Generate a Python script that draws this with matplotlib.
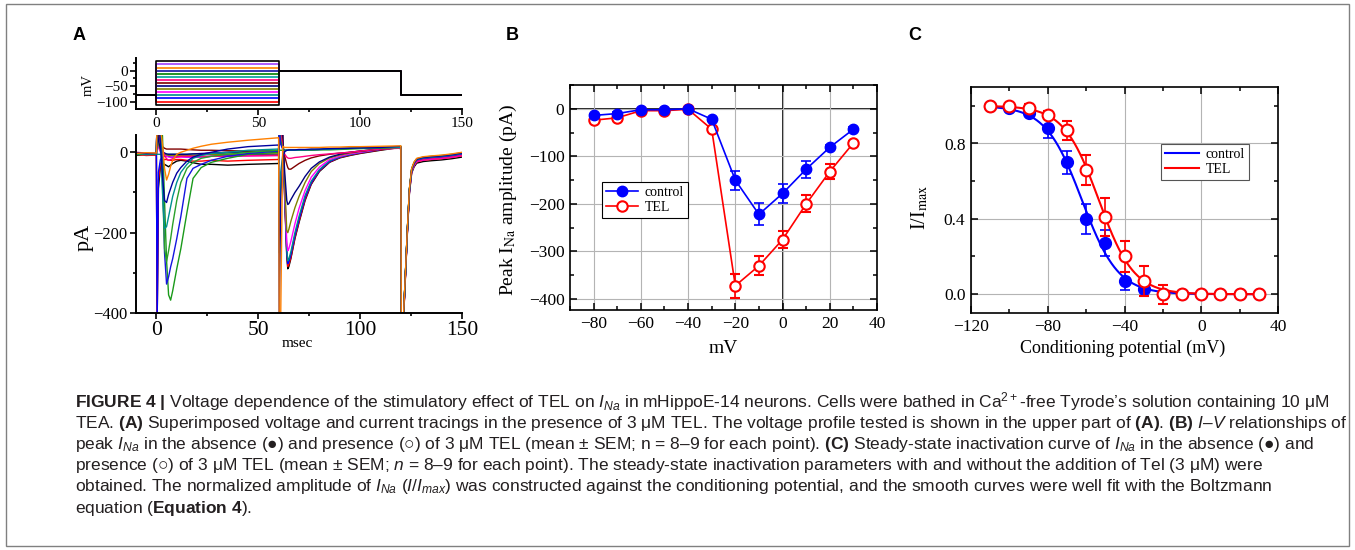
import numpy as np
import matplotlib
matplotlib.use("Agg")
import matplotlib.pyplot as plt
from matplotlib.ticker import MultipleLocator
from matplotlib.lines import Line2D
from matplotlib.patches import Rectangle

plt.rcParams['font.family'] = 'Liberation Serif'
plt.rcParams['mathtext.fontset'] = 'custom'
plt.rcParams['mathtext.rm'] = 'Liberation Sans'
plt.rcParams['mathtext.it'] = 'Liberation Sans:italic'
plt.rcParams['mathtext.bf'] = 'Liberation Sans:bold'

# ---------------- panel A: voltage protocol ----------------
levels = [-110, -100, -90, -80, -70, -60, -50, -40, -30, -20, -10, 0, 10, 20, 30]
hold_mv = -80
test_mv = 0
volt_t = [-10, 0, 0, 60, 60, 120, 120, 150]
volt_colors = ['black', 'red', 'blue', '#008b8b', '#ff00ff', '#808000', '#000080', '#800000',
               '#ff0080', '#00a0a0', '#008000', '#1010a0', '#ff8000', '#a040ff', 'black']

# ---------------- panel A: current traces (pA) ----------------
cur_colors = ['black', 'red', 'blue', '#008b8b', '#ff00ff', '#808000', '#000080', '#800000',
              '#ff0080', '#1a9a1a', '#1515e0', '#2aa02a', '#009090', '#0000a0', '#ff8000']

t_cond = [-10, -5, 0, 0.4, 1, 2, 3, 4, 5, 6, 7, 8, 10, 12, 15, 18, 22, 27, 35, 45, 59.6]
I_cond = [
    [-8, -5, -6, -420, -90, -35, -28, -30, -33, -36, -32, -28, -22, -20, -22, -26, -30, -30, -32, -30, -28],
    [-5, -8, -7, -420, -70, -28, -20, -18, -18, -20, -20, -20, -18, -18, -20, -22, -22, -20, -22, -20, -18],
    [-3, -5, -4, -420, -50, -18, -12, -10, -10, -10, -12, -12, -10, -10, -12, -12, -12, -10, -8, -6, -5],
    [-6, -4, -5, -5, -5, -5, -6, -6, -6, -5, -5, -5, -5, -5, -5, -4, -4, -3, -2, 0, 2],
    [-4, -6, -5, 40, 12, 0, -5, -8, -10, -12, -12, -12, -12, -12, -12, -12, -12, -10, -10, -9, -8],
    [-2, -4, -3, 60, 20, 4, 0, -4, -6, -8, -8, -8, -8, -8, -8, -8, -6, -5, -5, -4, -4],
    [-5, -3, -4, 80, 30, 8, 2, -2, -4, -5, -5, -5, -5, -5, -5, -4, -3, -2, 0, 2, 4],
    [-3, -5, -4, 100, 50, 22, 14, 10, 8, 8, 8, 8, 8, 8, 7, 6, 5, 5, 4, 3, 2],
    [0, -2, -3, 100, 80, 30, 6, -8, -16, -20, -18, -16, -12, -10, -10, -10, -10, -10, -10, -9, -8],
    [-4, -6, -5, 100, 100, 100, 40, -120, -270, -355, -368, -345, -290, -240, -150, -65, -38, -25, -15, -5, 0],
    [-2, -4, -3, 100, 100, 80, -40, -250, -328, -310, -285, -265, -215, -160, -65, -40, -30, -20, -10, -3, 3],
    [-6, -4, -5, 100, 100, 60, -80, -240, -272, -245, -215, -180, -120, -75, -40, -25, -15, -10, -5, 0, 5],
    [-3, -5, -4, 100, 100, 40, -100, -190, -185, -160, -135, -110, -75, -50, -30, -15, -8, -3, 0, 5, 8],
    [-2, -3, -3, 100, 100, 20, -60, -120, -125, -105, -90, -75, -52, -38, -22, -12, -5, 0, 8, 14, 18],
    [-3, -1, -2, 100, 100, 60, 20, -40, -69, -55, -35, -20, -5, 0, 5, 10, 15, 20, 25, 30, 36],
]

t_test = [60, 60.3, 61, 62, 63, 64, 64.5, 65, 66, 68, 70, 73, 76, 80, 85, 90, 95, 100, 110, 119.6]
I_test = [
    [-28, 100, 100, 60, -120, -260, -290, -285, -265, -215, -175, -120, -80, -48, -25, -14, -8, -3, 5, 12],
    [-18, 100, 100, 60, -115, -255, -284, -280, -262, -212, -172, -117, -78, -46, -24, -13, -7, -2, 6, 13],
    [-5, 100, 100, 60, -110, -250, -277, -273, -255, -207, -167, -113, -76, -45, -23, -12, -6, -1, 7, 14],
    [2, 100, 100, 55, -100, -243, -270, -266, -248, -200, -160, -107, -72, -43, -21, -11, -5, 0, 8, 12],
    [-8, 100, 100, 55, -90, -225, -245, -240, -222, -178, -140, -95, -62, -37, -18, -10, -4, 0, 8, 11],
    [-4, 100, 100, 50, -80, -195, -200, -192, -172, -138, -110, -75, -48, -28, -14, -7, -2, 2, 8, 12],
    [4, 100, 90, 40, -50, -120, -130, -128, -118, -100, -85, -60, -40, -24, -12, -5, 0, 3, 8, 13],
    [2, 100, 60, 20, -10, -30, -38, -42, -42, -35, -28, -20, -14, -9, -5, -2, 0, 3, 8, 12],
    [-8, 100, 50, 10, -5, -12, -14, -15, -15, -13, -12, -10, -8, -6, -4, -2, 0, 3, 8, 10],
    [0, 100, 30, 10, 5, 5, 5, 5, 5, 5, 5, 5, 5, 6, 6, 7, 8, 9, 10, 12],
    [3, 60, 20, 8, 5, 5, 5, 5, 5, 5, 6, 6, 6, 7, 8, 9, 10, 11, 12, 14],
    [5, 5, 5, 5, 5, 5, 5, 5, 5, 5, 6, 6, 6, 7, 8, 9, 10, 11, 12, 13],
    [8, -250, -50, -8, 2, 5, 5, 5, 5, 5, 6, 6, 7, 7, 8, 9, 10, 11, 12, 12],
    [18, -420, -120, -15, 2, 5, 5, 6, 6, 6, 7, 7, 8, 8, 9, 10, 10, 11, 12, 15],
    [36, -420, -420, 15, 12, 12, 12, 12, 12, 12, 12, 12, 12, 12, 13, 13, 14, 14, 15, 16],
]

t_tail = [120, 120.2, 121.2, 122, 123.2, 124.2, 125.3, 126.5, 127.8, 131, 135, 140, 145, 150]
I_tail = [12, -420, -420, -330, -193, -94, -44, -28, -19, -15, -13, -11, -8, -4]
tail_shift = [-8, -5, -3, -2, -4, -1, 0, 1, -3, 2, 0, 3, 1, 2, 4]

# ---------------- panel B: I-V ----------------
iv_mv = [-80, -70, -60, -50, -40, -30, -20, -10, 0, 10, 20, 30]
iv_ctrl = [-14, -10, -2, -2, 0, -22, -150, -222, -178, -127, -81, -43]
iv_ctrl_err = [3, 3, 2, 2, 2, 3, 20, 23, 20, 18, 5, 4]
iv_tel = [-24, -19, -4, -4, -1, -43, -372, -330, -275, -200, -132, -72]
iv_tel_err = [3, 3, 2, 2, 2, 4, 25, 20, 18, 18, 15, 5]

# ---------------- panel C: steady-state inactivation ----------------
ss_mv = [-110, -100, -90, -80, -70, -60, -50, -40, -30, -20, -10, 0, 10, 20, 30]
ss_ctrl = [1.0, 0.99, 0.96, 0.88, 0.70, 0.40, 0.27, 0.07, 0.03, 0.0, 0.0, 0.0, 0.0, 0.0, 0.0]
ss_ctrl_err = [0.005, 0.01, 0.01, 0.05, 0.06, 0.08, 0.07, 0.05, 0.02, 0.01, 0.005, 0.005, 0.005, 0.005, 0.005]
ss_tel = [1.0, 1.0, 0.99, 0.95, 0.87, 0.66, 0.41, 0.20, 0.07, 0.0, 0.0, 0.0, 0.0, 0.0, 0.0]
ss_tel_err = [0.005, 0.005, 0.02, 0.02, 0.05, 0.08, 0.10, 0.08, 0.08, 0.05, 0.015, 0.005, 0.005, 0.005, 0.005]

caption = [
    r"$\mathbf{FIGURE\ 4\ |}$ Voltage dependence of the stimulatory effect of TEL on $I_{Na}$ in mHippoE-14 neurons. Cells were bathed in Ca$^{2+}$-free Tyrode’s solution containing 10 μM",
    r"TEA. $\mathbf{(A)}$ Superimposed voltage and current tracings in the presence of 3 μM TEL. The voltage profile tested is shown in the upper part of $\mathbf{(A)}$. $\mathbf{(B)}$ $I$–$V$ relationships of",
    r"peak $I_{Na}$ in the absence (●) and presence (○) of 3 μM TEL (mean ± SEM; n = 8–9 for each point). $\mathbf{(C)}$ Steady-state inactivation curve of $I_{Na}$ in the absence (●) and",
    r"presence (○) of 3 μM TEL (mean ± SEM; $n$ = 8–9 for each point). The steady-state inactivation parameters with and without the addition of Tel (3 μM) were",
    r"obtained. The normalized amplitude of $I_{Na}$ ($I/I_{max}$) was constructed against the conditioning potential, and the smooth curves were well fit with the Boltzmann",
    r"equation ($\mathbf{Equation\ 4}$).",
]


def boltz_fit(v, y):
    v = np.asarray(v, float)
    y = np.asarray(y, float)
    vh, kk = np.meshgrid(np.arange(-90, -30, 0.1), np.arange(2, 15, 0.05))
    pred = 1 / (1 + np.exp((v[:, None, None] - vh) / kk))
    sse = ((pred - y[:, None, None]) ** 2).sum(axis=0)
    j, i = np.unravel_index(sse.argmin(), sse.shape)
    return vh[j, i], kk[j, i]


W, H = 1355, 550
fig = plt.figure(figsize=(W / 100, H / 100), dpi=100)


def box(l, t, r, b):
    return [l / W, 1 - b / H, (r - l) / W, (b - t) / H]


# ---- A, voltage ----
axv = fig.add_axes(box(136, 58, 462, 109))
for i, v in enumerate(levels):
    vv = [hold_mv, hold_mv, v, v, test_mv, test_mv, hold_mv, hold_mv]
    c = volt_colors[i]
    axv.plot(volt_t, vv, color=c, lw=1.2, zorder=3 if c == 'black' else 2)
axv.set_xlim(-10, 150)
axv.set_ylim(-124, 41)
axv.set_xticks([0, 50, 100, 150])
axv.set_yticks([-100, -50, 0])
axv.xaxis.set_minor_locator(MultipleLocator(25))
axv.yaxis.set_minor_locator(MultipleLocator(25))
axv.tick_params(labelsize=11, width=1.2, length=4, pad=2)
axv.tick_params(which='minor', width=1.2, length=2.5)
axv.set_ylabel('mV', fontsize=10.5, va='center')
axv.yaxis.set_label_coords(-0.147, 0.47)
for s in ['top', 'right']:
    axv.spines[s].set_visible(False)
for s in ['left', 'bottom']:
    axv.spines[s].set_linewidth(1.4)

# ---- A, current ----
axi = fig.add_axes(box(136, 135, 462, 313))
for i in range(len(levels)):
    tt = t_cond + t_test + t_tail
    yy = I_cond[i] + I_test[i] + [x + tail_shift[i] for x in I_tail]
    axi.plot(tt, yy, color=cur_colors[i], lw=1.0)
axi.set_xlim(-10, 150)
axi.set_ylim(-400, 43)
axi.set_xticks([0, 50, 100, 150])
axi.set_yticks([-400, -200, 0])
axi.xaxis.set_minor_locator(MultipleLocator(25))
axi.yaxis.set_minor_locator(MultipleLocator(100))
axi.tick_params(width=1.2, length=4, pad=2)
axi.tick_params(which='minor', width=1.2, length=2.5)
axi.tick_params(axis='x', labelsize=15.5)
axi.tick_params(axis='y', labelsize=12)
for s in ['top', 'right']:
    axi.spines[s].set_visible(False)
for s in ['left', 'bottom']:
    axi.spines[s].set_linewidth(1.4)
axi.set_ylabel('pA', fontsize=16, va='center')
axi.yaxis.set_label_coords(-0.16, 0.427)
axi.set_xlabel('msec', fontsize=11, va='center')
axi.xaxis.set_label_coords(0.495, -0.174)

# ---- B ----
axb = fig.add_axes(box(570, 85, 877, 310))
axb.grid(True, which='major', color='#b4b4b4', lw=0.8, zorder=0)
axb.axhline(0, color='black', lw=1.2, zorder=1)
axb.axvline(0, color='black', lw=1.2, zorder=1)
axb.errorbar(iv_mv, iv_tel, yerr=iv_tel_err, color='red', lw=1.2, marker='o', ms=7.5,
             mfc='white', mec='red', mew=1.5, capsize=3.5, capthick=1.2, elinewidth=1.2, zorder=3)
axb.errorbar(iv_mv, iv_ctrl, yerr=iv_ctrl_err, color='blue', lw=1.2, marker='o', ms=7.5,
             mfc='blue', mec='blue', capsize=3.5, capthick=1.2, elinewidth=1.2, zorder=4)
axb.set_xlim(-90, 40)
axb.set_ylim(-423, 50)
axb.set_xticks([-80, -60, -40, -20, 0, 20, 40])
axb.set_yticks([-400, -300, -200, -100, 0])
axb.xaxis.set_minor_locator(MultipleLocator(10))
axb.yaxis.set_minor_locator(MultipleLocator(50))
axb.tick_params(which='both', direction='in', top=True, right=True, width=1.1)
axb.tick_params(which='major', length=5, labelsize=12.5, pad=4)
axb.tick_params(which='minor', length=3)
for s in axb.spines.values():
    s.set_linewidth(1.2)
axb.set_xlabel('mV', fontsize=14, va='center')
axb.xaxis.set_label_coords(0.498, -0.169)
axb.set_ylabel(r'Peak I$_{\mathrm{Na}}$ amplitude (pA)', fontsize=14, math_fontfamily='stix',
               va='center')
axb.yaxis.set_label_coords(-0.2, 0.49)
hb = [Line2D([], [], color='blue', lw=1.2, marker='o', ms=7.5, mfc='blue', mec='blue'),
      Line2D([], [], color='red', lw=1.2, marker='o', ms=7.5, mfc='white', mec='red', mew=1.5)]
lb = axb.legend(hb, ['control', 'TEL'], loc='lower left', bbox_to_anchor=(0.104, 0.409),
                fancybox=False, edgecolor='black', framealpha=1, fontsize=10,
                handlelength=2.3, borderpad=0.3, labelspacing=0.15, handletextpad=0.5,
                borderaxespad=0)
lb.get_frame().set_linewidth(0.8)

# ---- C ----
axc = fig.add_axes(box(971, 87, 1278, 313))
axc.grid(True, which='major', color='#b4b4b4', lw=0.8, zorder=0)
vfit = np.linspace(min(ss_mv), max(ss_mv), 300)
vh_c, k_c = boltz_fit(ss_mv, ss_ctrl)
vh_t, k_t = boltz_fit(ss_mv, ss_tel)
axc.plot(vfit, 1 / (1 + np.exp((vfit - vh_c) / k_c)), color='blue', lw=1.5, zorder=2)
axc.plot(vfit, 1 / (1 + np.exp((vfit - vh_t) / k_t)), color='red', lw=1.5, zorder=2)
axc.errorbar(ss_mv, ss_ctrl, yerr=ss_ctrl_err, fmt='o', color='blue', ms=8.5, mfc='blue',
             capsize=3.5, capthick=1.2, elinewidth=1.2, zorder=3)
axc.errorbar(ss_mv, ss_tel, yerr=ss_tel_err, fmt='o', color='red', ms=8.5, mfc='white',
             mec='red', mew=1.5, capsize=3.5, capthick=1.2, elinewidth=1.2, zorder=4)
axc.set_xlim(-120, 40)
axc.set_ylim(-0.1, 1.1)
axc.set_xticks([-120, -80, -40, 0, 40])
axc.set_yticks([0.0, 0.4, 0.8])
axc.set_yticklabels(['0.0', '0.4', '0.8'])
axc.xaxis.set_minor_locator(MultipleLocator(20))
axc.yaxis.set_minor_locator(MultipleLocator(0.2))
axc.tick_params(which='both', direction='in', top=True, right=True, width=1.1)
axc.tick_params(which='major', length=5, labelsize=12.5, pad=4)
axc.tick_params(which='minor', length=3)
for s in axc.spines.values():
    s.set_linewidth(1.2)
axc.set_xlabel('Conditioning potential (mV)', fontsize=13, va='center')
axc.xaxis.set_label_coords(0.495, -0.155)
axc.set_ylabel(r'I/I$_{\mathrm{max}}$', fontsize=14.5, math_fontfamily='stix', va='center')
axc.yaxis.set_label_coords(-0.166, 0.469)
hc = [Line2D([], [], color='blue', lw=1.5), Line2D([], [], color='red', lw=1.5)]
lc = axc.legend(hc, ['control', 'TEL'], loc='lower left', bbox_to_anchor=(0.619, 0.588),
                fancybox=False, edgecolor='#555555', framealpha=1, fontsize=10,
                handlelength=2.4, borderpad=0.3, labelspacing=0.15, handletextpad=0.5,
                borderaxespad=0)
lc.get_frame().set_linewidth(0.8)

# ---- panel letters ----
for lab, x in [('A', 79), ('B', 512), ('C', 915)]:
    fig.text(x / W, 1 - 36 / H, lab, fontsize=13, fontweight='bold', family='Liberation Sans',
             ha='center', va='center')

# ---- caption, size fitted so the longest line spans the text block ----
renderer = fig.canvas.get_renderer()
widest = 0
for line in caption:
    probe = fig.text(0, 0, line, fontsize=12, family='Liberation Sans')
    widest = max(widest, probe.get_window_extent(renderer).width)
    probe.remove()
cap_size = 12 * 1268 / widest
for k, line in enumerate(caption):
    fig.text(75 / W, 1 - (402 + 21.2 * k) / H, line, fontsize=cap_size,
             family='Liberation Sans', color='#231f20', va='center', ha='left')

fig.patches.append(Rectangle((6 / W, 4 / H), 1343 / W, 542 / H, transform=fig.transFigure,
                             fill=False, edgecolor='#808080', lw=1.0))

fig.savefig('out.png', dpi=100)
